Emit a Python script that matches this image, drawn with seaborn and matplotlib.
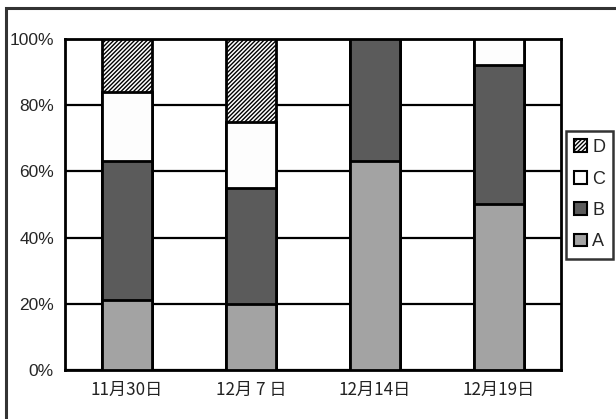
import matplotlib
matplotlib.use("Agg")
import matplotlib.pyplot as plt
from matplotlib import font_manager
from matplotlib.patches import Patch, Rectangle
from matplotlib.ticker import FixedLocator
import numpy as np
import pandas as pd
import seaborn as sns

# Survey dates and the share (%) of each group on that date
dates = ["11月30日", "12月 7 日", "12月14日", "12月19日"]
share_a = [21, 20, 63, 50]
share_b = [42, 35, 37, 42]
share_c = [21, 20, 0, 8]
share_d = [16, 25, 0, 0]
series_names = ["A", "B", "C", "D"]
y_ticks = [0, 20, 40, 60, 80, 100]
y_tick_labels = ["0%", "20%", "40%", "60%", "80%", "100%"]

sns.set_style("white")
installed = {f.name for f in font_manager.fontManager.ttflist}
num_font = "Liberation Sans Narrow" if "Liberation Sans Narrow" in installed else "Liberation Sans"
cjk_family = ["Noto Sans CJK JP", "DejaVu Sans"]
plt.rcParams["font.family"] = cjk_family
plt.rcParams["hatch.linewidth"] = 1.0

# long table with the running top of each stacked segment
df = pd.DataFrame({"date": dates, "A": share_a, "B": share_b, "C": share_c, "D": share_d})
long = df.melt(id_vars="date", value_vars=series_names, var_name="series", value_name="share")
long["series"] = pd.Categorical(long["series"], categories=series_names, ordered=True)
long["date"] = pd.Categorical(long["date"], categories=dates, ordered=True)
long = long.sort_values(["date", "series"])
long["top"] = long.groupby("date", observed=True)["share"].cumsum()

fills = {"A": "#a3a3a3", "B": "#5b5b5b", "C": "#fdfdfd", "D": "#ffffff"}
hatches = {"A": None, "B": None, "C": None, "D": "////////"}

fig = plt.figure(figsize=(6.16, 4.19), dpi=100)
ax = fig.add_axes([65 / 616, 49 / 419, 496 / 616, 331 / 419])

# paint the segments from the top of each stack downwards
for name in reversed(series_names):
    part = long[long["series"] == name]
    sns.barplot(data=part, x="date", y="top", order=dates, ax=ax,
                color=fills[name], saturation=1, width=0.405,
                edgecolor="black", linewidth=2, hatch=hatches[name],
                errorbar=None, zorder=3)

ax.set_xlim(-0.5, len(dates) - 0.5)
ax.set_ylim(0, 100)
ax.set_xlabel("")
ax.set_ylabel("")

ax.set_yticks(y_ticks)
ax.set_yticklabels(y_tick_labels, family=[num_font, "DejaVu Sans"], fontsize=12.5)
ax.tick_params(axis="y", length=0, pad=8)

ax.set_xticks(range(len(dates)))
ax.set_xticklabels(dates, family=cjk_family, fontsize=12.3, color="#222222")
ax.tick_params(axis="x", which="major", length=0, pad=8)
ax.xaxis.set_minor_locator(FixedLocator(np.arange(0.5, len(dates) - 0.5, 1.0)))
ax.tick_params(axis="x", which="minor", direction="in", length=5, width=2, color="black")

ax.set_axisbelow(True)
ax.yaxis.grid(True, color="black", linewidth=1.6)
ax.xaxis.grid(False)
for s in ax.spines.values():
    s.set_visible(True)
    s.set_color("black")
    s.set_linewidth(2)

handles = [Patch(facecolor=fills[n], edgecolor="black", linewidth=1.5, hatch=hatches[n], label=n)
           for n in reversed(series_names)]
leg = fig.legend(handles=handles, loc="upper left",
                 bbox_to_anchor=(566 / 616, (419 - 131) / 419), bbox_transform=fig.transFigure,
                 borderaxespad=0, frameon=True, fancybox=False, edgecolor="black",
                 handlelength=0.7, handleheight=0.7, handletextpad=0.3,
                 labelspacing=0.8, borderpad=0.45,
                 prop={"family": [num_font, "DejaVu Sans"], "size": 13})
leg.get_frame().set_linewidth(1.8)

# outer chart-area frame
fig.patches.append(Rectangle((6 / 616, -0.1), 1.2, (411 / 419) + 0.1,
                             transform=fig.transFigure, fill=False,
                             edgecolor="#333333", linewidth=2.2))

fig.savefig("out.png", dpi=100, facecolor="white")
